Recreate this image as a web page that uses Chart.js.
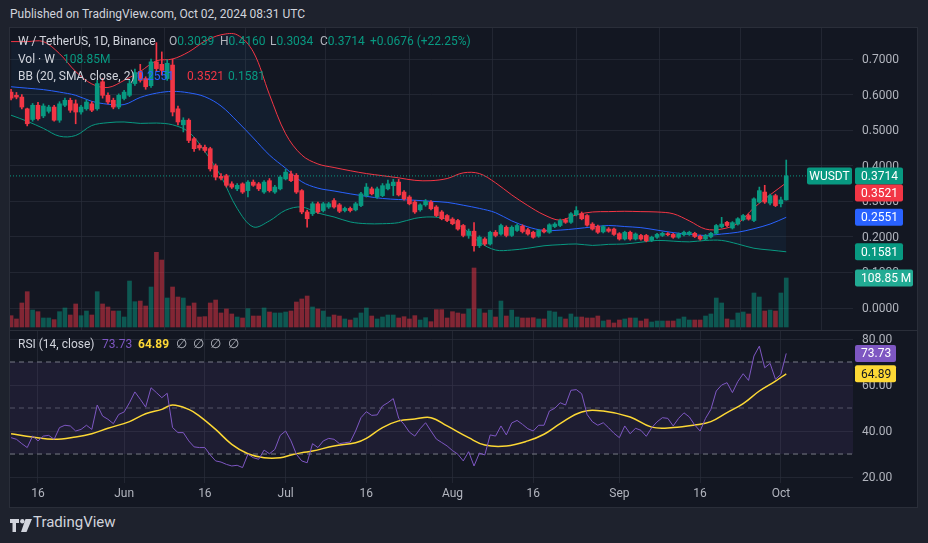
<!DOCTYPE html>
<html>
<head>
<meta charset="utf-8">
<title>W / TetherUS 1D</title>
<script src="https://cdn.jsdelivr.net/npm/chart.js@4.4.1/dist/chart.umd.min.js"></script>
<style>
    html, body { margin: 0; padding: 0; }
    body { width: 928px; height: 543px; background: #1e222d; position: relative; overflow: hidden;
           font-family: Roboto, "Liberation Sans", sans-serif; color: #d1d4dc; }
    .abs { position: absolute; white-space: nowrap; }
    #frame { left: 9px; top: 27px; width: 909px; height: 481px; box-sizing: border-box;
             background: #131722; border: 1px solid #2a2e39; }
    #sep { left: 10px; top: 330px; width: 907px; height: 1px; background: #2a2e39; }
    #priceCanvas { left: 10px; top: 28px; }
    #rsiCanvas { left: 10px; top: 331px; }
    .lg { position: absolute; white-space: nowrap; font-size: 12px; line-height: 16px; color: #d1d4dc; }
    .k { color: #b2b5be; }
    .g { color: #089981; }
    .r { color: #f23645; }
    .b { color: #2962ff; }
    .p { color: #7e57c2; }
    .yl { color: #fdd835; font-weight: bold; }
</style>
</head>
<body>
<div id="frame" class="abs"></div>
<div class="abs" style="left:10px;top:7px;font-size:12px;color:#d1d4dc;">Published on TradingView.com, Oct 02, 2024 08:31 UTC</div>
<canvas id="priceCanvas" class="abs" width="908" height="303"></canvas>
<div id="sep" class="abs"></div>
<canvas id="rsiCanvas" class="abs" width="908" height="176"></canvas>

<!-- legends -->
<div class="lg" style="left:18px;top:33px;">W / TetherUS, 1D, Binance</div>
<div class="lg" style="left:169px;top:33px;"><span class="k">O</span><span class="g">0.3039</span></div>
<div class="lg" style="left:220px;top:33px;"><span class="k">H</span><span class="g">0.4160</span></div>
<div class="lg" style="left:270px;top:33px;"><span class="k">L</span><span class="g">0.3034</span></div>
<div class="lg" style="left:320px;top:33px;"><span class="k">C</span><span class="g">0.3714</span></div>
<div class="lg g" style="left:370px;top:33px;">+0.0676 (+22.25%)</div>
<div class="lg" style="left:18px;top:51px;">Vol · W</div>
<div class="lg g" style="left:63px;top:51px;">108.85M</div>
<div class="lg" style="left:18px;top:68px;">BB (20, SMA, close, 2)</div>
<div class="lg b" style="left:137px;top:68px;">0.2551</div>
<div class="lg r" style="left:187px;top:68px;">0.3521</div>
<div class="lg g" style="left:228px;top:68px;">0.1581</div>
<div class="lg" style="left:18px;top:336px;">RSI (14, close)</div>
<div class="lg p" style="left:102px;top:336px;">73.73</div>
<div class="lg yl" style="left:138px;top:336px;">64.89</div>
<div class="lg k" style="left:176px;top:336px;font-size:13px;word-spacing:3px;">∅ ∅ ∅ ∅</div>

<div class="abs" style="left:10px;top:517px;">
    <svg width="22" height="13" viewBox="0 0 22 13">
        <path d="M0 0h9v4H6v9H2.5V4H0z" fill="#d1d4dc"/>
        <circle cx="12.3" cy="2.2" r="2.2" fill="#d1d4dc"/>
        <path d="M15.5 0H22l-5.5 13H11z" fill="#d1d4dc"/>
    </svg>
</div>
<div class="abs" style="left:33px;top:513px;font-size:15px;color:#d1d4dc;">TradingView</div>

<script>
//--------------
//- DATA -
//--------------
// day 0 = May 11 2024, last day 144 = Oct 02 2024
var tickDays = [5, 21, 36, 51, 66, 82, 97, 113, 128, 143];
var tickLabels = ["16", "Jun", "16", "Jul", "16", "Aug", "16", "Sep", "16", "Oct"];

var opens = [0.607, 0.598, 0.593, 0.560, 0.530, 0.570, 0.540, 0.553, 0.565, 0.528,
    0.570, 0.584, 0.574, 0.551, 0.560, 0.574, 0.560, 0.636, 0.598, 0.584,
    0.565, 0.589, 0.598, 0.631, 0.665, 0.645, 0.625, 0.692, 0.685, 0.645,
    0.683, 0.560, 0.515, 0.528, 0.476, 0.457, 0.452, 0.448, 0.400, 0.370,
    0.372, 0.349, 0.335, 0.349, 0.330, 0.354, 0.349, 0.326, 0.358, 0.326,
    0.335, 0.363, 0.377, 0.373, 0.330, 0.270, 0.265, 0.293, 0.274, 0.284,
    0.302, 0.290, 0.274, 0.280, 0.276, 0.288, 0.316, 0.335, 0.312, 0.316,
    0.335, 0.344, 0.354, 0.326, 0.312, 0.298, 0.276, 0.290, 0.298, 0.284,
    0.270, 0.260, 0.250, 0.246, 0.232, 0.204, 0.216, 0.175, 0.194, 0.180,
    0.213, 0.208, 0.227, 0.204, 0.218, 0.230, 0.220, 0.213, 0.202, 0.220,
    0.213, 0.229, 0.232, 0.248, 0.241, 0.262, 0.265, 0.260, 0.236, 0.230,
    0.214, 0.222, 0.222, 0.209, 0.194, 0.213, 0.194, 0.204, 0.204, 0.190,
    0.199, 0.204, 0.209, 0.207, 0.199, 0.206, 0.207, 0.210, 0.202, 0.194,
    0.200, 0.210, 0.228, 0.241, 0.225, 0.236, 0.248, 0.260, 0.246, 0.298,
    0.326, 0.295, 0.316, 0.293, 0.3039];
var highs = [0.615, 0.606, 0.600, 0.562, 0.575, 0.578, 0.574, 0.570, 0.570, 0.580,
    0.590, 0.590, 0.585, 0.570, 0.585, 0.580, 0.640, 0.645, 0.605, 0.590,
    0.602, 0.612, 0.640, 0.672, 0.685, 0.650, 0.700, 0.746, 0.720, 0.698,
    0.700, 0.568, 0.535, 0.532, 0.480, 0.462, 0.458, 0.452, 0.405, 0.378,
    0.376, 0.355, 0.350, 0.352, 0.358, 0.360, 0.353, 0.358, 0.364, 0.345,
    0.372, 0.390, 0.385, 0.378, 0.333, 0.275, 0.298, 0.298, 0.297, 0.297,
    0.308, 0.294, 0.284, 0.284, 0.297, 0.325, 0.350, 0.340, 0.340, 0.350,
    0.360, 0.362, 0.362, 0.330, 0.316, 0.302, 0.293, 0.305, 0.302, 0.288,
    0.274, 0.263, 0.254, 0.249, 0.235, 0.222, 0.240, 0.203, 0.198, 0.216,
    0.218, 0.236, 0.231, 0.231, 0.236, 0.234, 0.224, 0.216, 0.221, 0.224,
    0.237, 0.240, 0.250, 0.252, 0.268, 0.285, 0.270, 0.263, 0.240, 0.233,
    0.232, 0.226, 0.225, 0.212, 0.216, 0.216, 0.211, 0.207, 0.207, 0.202,
    0.210, 0.213, 0.212, 0.210, 0.211, 0.216, 0.216, 0.213, 0.205, 0.207,
    0.213, 0.235, 0.255, 0.244, 0.243, 0.254, 0.263, 0.264, 0.310, 0.340,
    0.345, 0.320, 0.320, 0.312, 0.4160];
var lows = [0.585, 0.588, 0.560, 0.512, 0.525, 0.528, 0.535, 0.548, 0.525, 0.522,
    0.566, 0.550, 0.518, 0.545, 0.556, 0.552, 0.556, 0.590, 0.574, 0.560,
    0.560, 0.585, 0.594, 0.626, 0.635, 0.615, 0.620, 0.665, 0.655, 0.640,
    0.540, 0.515, 0.495, 0.465, 0.440, 0.444, 0.438, 0.385, 0.360, 0.360,
    0.340, 0.336, 0.330, 0.322, 0.312, 0.342, 0.330, 0.322, 0.326, 0.322,
    0.332, 0.360, 0.355, 0.322, 0.265, 0.227, 0.260, 0.266, 0.270, 0.280,
    0.281, 0.268, 0.270, 0.270, 0.273, 0.285, 0.312, 0.318, 0.308, 0.313,
    0.332, 0.316, 0.315, 0.303, 0.290, 0.266, 0.272, 0.286, 0.276, 0.257,
    0.248, 0.243, 0.234, 0.219, 0.200, 0.196, 0.160, 0.170, 0.176, 0.177,
    0.200, 0.205, 0.200, 0.201, 0.215, 0.211, 0.205, 0.196, 0.199, 0.211,
    0.210, 0.226, 0.229, 0.238, 0.238, 0.259, 0.248, 0.230, 0.219, 0.210,
    0.211, 0.213, 0.204, 0.191, 0.191, 0.191, 0.191, 0.191, 0.186, 0.187,
    0.196, 0.201, 0.203, 0.196, 0.196, 0.203, 0.204, 0.198, 0.191, 0.191,
    0.197, 0.207, 0.225, 0.229, 0.222, 0.233, 0.245, 0.247, 0.243, 0.295,
    0.294, 0.290, 0.285, 0.284, 0.3034];
var closes = [0.590, 0.593, 0.565, 0.518, 0.570, 0.532, 0.568, 0.565, 0.528, 0.574,
    0.584, 0.556, 0.551, 0.565, 0.579, 0.556, 0.631, 0.598, 0.579, 0.565,
    0.598, 0.607, 0.631, 0.662, 0.640, 0.622, 0.692, 0.673, 0.668, 0.688,
    0.551, 0.523, 0.528, 0.471, 0.448, 0.450, 0.443, 0.391, 0.368, 0.365,
    0.345, 0.340, 0.345, 0.326, 0.354, 0.345, 0.335, 0.354, 0.330, 0.340,
    0.368, 0.382, 0.358, 0.326, 0.270, 0.251, 0.293, 0.270, 0.293, 0.293,
    0.284, 0.272, 0.280, 0.274, 0.293, 0.321, 0.340, 0.321, 0.335, 0.344,
    0.349, 0.354, 0.318, 0.307, 0.293, 0.270, 0.290, 0.300, 0.279, 0.260,
    0.251, 0.246, 0.237, 0.222, 0.204, 0.216, 0.175, 0.199, 0.180, 0.213,
    0.204, 0.232, 0.204, 0.227, 0.232, 0.215, 0.208, 0.199, 0.218, 0.214,
    0.234, 0.236, 0.246, 0.241, 0.265, 0.274, 0.251, 0.233, 0.222, 0.213,
    0.229, 0.216, 0.207, 0.194, 0.213, 0.194, 0.208, 0.194, 0.189, 0.199,
    0.207, 0.210, 0.206, 0.199, 0.208, 0.213, 0.213, 0.201, 0.194, 0.204,
    0.210, 0.232, 0.236, 0.232, 0.240, 0.251, 0.260, 0.250, 0.307, 0.330,
    0.298, 0.316, 0.288, 0.3039, 0.3714];
// volume, millions
var volumes = [25.1, 17.8, 53.3, 78.4, 37.7, 34.0, 20.0, 20.0, 16.3, 34.0,
    42.2, 26.6, 51.1, 25.1, 35.5, 26.6, 78.4, 51.1, 44.4, 35.5,
    35.5, 22.2, 102.1, 56.2, 57.7, 46.6, 88.8, 165.8, 148.7, 64.4,
    88.8, 66.6, 64.4, 46.6, 53.3, 22.2, 23.0, 53.3, 59.9, 31.1,
    40.0, 28.9, 22.2, 20.0, 40.7, 24.4, 24.4, 42.2, 33.3, 31.1,
    31.1, 33.3, 35.5, 55.5, 62.2, 68.8, 44.4, 40.0, 35.5, 22.2,
    26.6, 24.4, 17.8, 15.5, 20.0, 31.1, 42.2, 24.4, 17.8, 22.2,
    26.6, 26.6, 20.0, 22.9, 17.8, 25.2, 15.5, 20.7, 11.8, 38.5,
    38.5, 20.0, 34.0, 31.1, 28.9, 40.0, 131.0, 40.0, 31.1, 37.7,
    22.2, 57.7, 24.4, 37.7, 22.2, 20.0, 20.0, 20.7, 17.8, 17.8,
    35.5, 33.3, 22.2, 17.8, 28.9, 22.2, 22.2, 20.0, 20.0, 24.4,
    13.3, 15.5, 8.9, 15.5, 17.8, 20.0, 20.0, 13.3, 17.8, 11.1,
    13.3, 13.3, 13.3, 13.3, 17.8, 22.2, 15.5, 15.5, 15.5, 24.4,
    28.9, 64.4, 53.3, 17.8, 15.5, 31.1, 33.3, 28.9, 75.5, 66.6,
    35.5, 37.7, 35.5, 75.5, 108.85];

// Bollinger bands read every 3 days
var bbDays = [0, 3, 6, 9, 12, 15, 18, 21, 24, 27, 30, 33, 36, 39, 42, 45, 48, 51, 54, 57,
    60, 63, 66, 69, 72, 75, 78, 81, 84, 87, 90, 93, 96, 99, 102, 105, 108, 111, 114, 117,
    120, 123, 126, 129, 132, 135, 138, 141, 144];
var bbUpper = [0.749, 0.749, 0.749, 0.715, 0.665, 0.630, 0.620, 0.640, 0.665, 0.695,
    0.700, 0.720, 0.750, 0.768, 0.768, 0.720, 0.600, 0.490, 0.430, 0.405,
    0.395, 0.386, 0.378, 0.372, 0.366, 0.359, 0.358, 0.364, 0.380, 0.378,
    0.352, 0.318, 0.288, 0.262, 0.247, 0.262, 0.270, 0.271, 0.272, 0.271,
    0.270, 0.265, 0.245, 0.222, 0.222, 0.238, 0.282, 0.318, 0.3521];
var bbBasis = [0.622, 0.618, 0.614, 0.607, 0.598, 0.581, 0.573, 0.572, 0.592, 0.604,
    0.609, 0.605, 0.594, 0.568, 0.525, 0.478, 0.430, 0.393, 0.355, 0.337,
    0.329, 0.321, 0.314, 0.308, 0.305, 0.303, 0.300, 0.297, 0.289, 0.280,
    0.268, 0.245, 0.228, 0.218, 0.219, 0.223, 0.228, 0.232, 0.229, 0.226,
    0.219, 0.212, 0.207, 0.204, 0.208, 0.213, 0.223, 0.236, 0.2551];
var bbLower = [0.542, 0.525, 0.505, 0.483, 0.485, 0.513, 0.521, 0.523, 0.519, 0.520,
    0.515, 0.495, 0.440, 0.370, 0.280, 0.228, 0.245, 0.275, 0.284, 0.267,
    0.256, 0.242, 0.237, 0.237, 0.240, 0.252, 0.256, 0.250, 0.225, 0.185,
    0.163, 0.163, 0.168, 0.175, 0.178, 0.180, 0.176, 0.179, 0.180, 0.185,
    0.190, 0.188, 0.186, 0.190, 0.190, 0.180, 0.168, 0.163, 0.1581];

var rsiValues = [37.1, 36.4, 34.5, 32.8, 37.8, 35.7, 37.8, 38.1, 36.4, 41.5,
    42.5, 42.2, 40.0, 40.7, 42.5, 40.7, 51.3, 46.5, 45.1, 43.2,
    47.2, 48.3, 52.3, 57.0, 53.8, 50.4, 58.8, 56.7, 54.5, 56.4,
    41.5, 39.3, 39.3, 35.7, 33.1, 32.8, 32.8, 29.6, 27.0, 26.5,
    25.5, 24.8, 25.1, 24.1, 29.9, 28.4, 27.7, 31.7, 30.1, 32.0,
    38.1, 40.0, 35.7, 29.9, 27.0, 26.2, 34.5, 32.8, 35.7, 36.8,
    36.4, 34.5, 34.9, 35.2, 40.0, 45.8, 48.4, 46.8, 47.0, 50.9,
    52.3, 54.1, 45.6, 42.9, 39.5, 37.8, 41.0, 43.6, 40.0, 36.5,
    35.0, 33.5, 31.5, 29.9, 27.0, 31.0, 24.8, 30.4, 29.6, 38.3,
    37.8, 42.2, 38.3, 43.5, 44.6, 42.9, 41.0, 40.0, 42.5, 42.5,
    48.7, 49.9, 52.3, 51.3, 57.7, 58.0, 56.2, 47.2, 44.0, 42.5,
    43.6, 41.4, 39.0, 37.1, 42.2, 38.8, 41.2, 40.3, 37.7, 41.4,
    44.0, 45.8, 45.5, 42.2, 45.5, 47.9, 46.1, 42.6, 40.0, 45.5,
    49.4, 57.4, 60.0, 61.0, 56.7, 61.5, 64.9, 62.0, 72.6, 76.9,
    67.5, 69.4, 62.5, 64.6, 73.73];
var rsiMaDays = [0, 4, 8, 12, 15, 18, 22, 25, 28, 30, 33, 35, 38, 41, 44, 47, 50, 52, 54, 56,
    60, 64, 66, 69, 72, 75, 78, 81, 85, 88, 92, 96, 99, 102, 106, 110, 115, 119, 123, 127,
    130, 133, 136, 139, 142, 144];
var rsiMaValues = [38.8, 37.4, 36.4, 37.4, 38.8, 41.2, 44.1, 47.5, 49.4, 51.3,
    49.4, 46.5, 40.7, 34.2, 30.1, 28.4, 28.4, 29.6, 30.6, 31.3,
    33.5, 34.9, 36.8, 41.5, 44.4, 45.2, 45.8, 42.2, 37.1, 33.9,
    33.5, 35.7, 38.6, 43.2, 48.3, 48.7, 46.1, 41.7, 41.5, 42.6,
    44.1, 48.0, 51.9, 57.4, 61.7, 64.89];
var rsiLevels = [70, 50, 30];

//--------------
//- SETUP -
//--------------
Chart.defaults.font.family = "Roboto, 'Liberation Sans', sans-serif";
Chart.defaults.font.size = 12;
Chart.defaults.color = "#b2b5be";

var upColor = "#089981";
var downColor = "#f23645";
var gridColor = "rgba(42,46,57,0.7)";
var xMin = -0.2;
var xMax = 156.4;
var last = closes.length - 1;

function points(xs, ys) {
    return xs.map(function(x, i) { return { x: x, y: ys[i] }; });
}
var days = closes.map(function(c, i) { return i; });

function sideAxis(scale) {
    scale.width = 65;
    scale.paddingTop = 0;
    scale.paddingBottom = 0;
}
function dayTicks(scale) {
    scale.ticks = tickDays.map(function(d) { return { value: d }; });
}

// price / value tags on the right scale
var badgePlugin = {
    id: "badges",
    afterDraw: function(chart, args, opts) {
        var ctx = chart.ctx;
        var area = chart.chartArea;
        var prevBottom = -1000;
        ctx.save();
        ctx.font = "12px Roboto, sans-serif";
        ctx.textBaseline = "middle";
        opts.items.forEach(function(b) {
            var y = chart.scales[b.axis].getPixelForValue(b.value);
            var top = Math.max(y - 8.5, prevBottom);
            prevBottom = top + 17;
            ctx.fillStyle = b.bg;
            ctx.beginPath();
            ctx.roundRect(area.right + 2, top, b.w, 17, 2);
            ctx.fill();
            ctx.fillStyle = b.fg;
            ctx.textAlign = "left";
            ctx.fillText(b.text, area.right + 8, top + 9.5);
            if (b.tag) {
                ctx.fillStyle = b.bg;
                ctx.beginPath();
                ctx.roundRect(area.right - 46, top, 45, 17, 2);
                ctx.fill();
                ctx.fillStyle = b.fg;
                ctx.textAlign = "center";
                ctx.fillText(b.tag, area.right - 23.5, top + 9.5);
            }
        });
        ctx.restore();
    }
};

//--------------
//- PRICE PANE -
//--------------
var candleColors = closes.map(function(c, i) { return c >= opens[i] ? upColor : downColor; });
var volColors = closes.map(function(c, i) {
    return c >= opens[i] ? "rgba(8,153,129,0.5)" : "rgba(242,54,69,0.5)";
});
var wickData = days.map(function(i) { return { x: i, y: [lows[i], highs[i]] }; });
var bodyData = days.map(function(i) { return { x: i, y: [opens[i], closes[i]] }; });

new Chart(document.getElementById("priceCanvas"), {
    type: "bar",
    data: {
        datasets: [{
            type: "bar", yAxisID: "yVol", data: points(days, volumes),
            backgroundColor: volColors, barThickness: 4, grouped: false, order: 10
        }, {
            type: "line", data: points(bbDays, bbUpper), borderColor: "#f23645",
            borderWidth: 1, pointRadius: 0, tension: 0.35, fill: false, order: 6
        }, {
            type: "line", data: points(bbDays, bbBasis), borderColor: "#2962ff",
            borderWidth: 1, pointRadius: 0, tension: 0.35, fill: false, order: 6
        }, {
            type: "line", data: points(bbDays, bbLower), borderColor: "#089981",
            borderWidth: 1, pointRadius: 0, tension: 0.35, fill: "-2",
            backgroundColor: "rgba(33,150,243,0.06)", order: 6
        }, {
            type: "line", data: points([xMin, xMax], [closes[last], closes[last]]),
            borderColor: upColor, borderWidth: 1, borderDash: [1, 2], pointRadius: 0, fill: false, order: 5
        }, {
            type: "bar", data: wickData, backgroundColor: candleColors,
            barThickness: 1, grouped: false, order: 2
        }, {
            type: "bar", data: bodyData, backgroundColor: candleColors,
            barThickness: 4, minBarLength: 1, grouped: false, order: 1
        }]
    },
    options: {
        responsive: false,
        animation: false,
        events: [],
        layout: { padding: 0 },
        plugins: {
            legend: { display: false },
            tooltip: { enabled: false },
            badges: {
                items: [
                    { axis: "y", value: closes[last], text: closes[last].toFixed(4), tag: "WUSDT", bg: "#089981", fg: "#ffffff", w: 48 },
                    { axis: "y", value: bbUpper[bbUpper.length - 1], text: bbUpper[bbUpper.length - 1].toFixed(4), bg: "#f23645", fg: "#ffffff", w: 48 },
                    { axis: "y", value: bbBasis[bbBasis.length - 1], text: bbBasis[bbBasis.length - 1].toFixed(4), bg: "#2962ff", fg: "#ffffff", w: 48 },
                    { axis: "y", value: bbLower[bbLower.length - 1], text: bbLower[bbLower.length - 1].toFixed(4), bg: "#089981", fg: "#ffffff", w: 48 },
                    { axis: "yVol", value: volumes[last], text: volumes[last].toFixed(2) + " M", bg: "#22ab94", fg: "#ffffff", w: 58 }
                ]
            }
        },
        scales: {
            x: {
                type: "linear", min: xMin, max: xMax, offset: false,
                afterBuildTicks: dayTicks,
                ticks: { display: false },
                grid: { color: gridColor, drawTicks: false },
                border: { display: false },
                afterFit: function(s) { s.height = 0; s.paddingLeft = 0; s.paddingRight = 0; }
            },
            y: {
                position: "right", min: -0.0646, max: 0.7872,
                ticks: {
                    stepSize: 0.1, includeBounds: false, padding: 9, labelOffset: 1,
                    callback: function(v) { return v.toFixed(4); }
                },
                grid: { color: gridColor, drawTicks: false },
                border: { display: false },
                afterFit: sideAxis
            },
            yVol: { position: "right", display: false, min: -8.9, max: 664 }
        }
    },
    plugins: [badgePlugin]
});

//--------------
//- RSI PANE -
//--------------
new Chart(document.getElementById("rsiCanvas"), {
    type: "line",
    data: {
        datasets: [{
            data: points([xMin, xMax], [rsiLevels[0], rsiLevels[0]]), borderColor: "#787b86",
            borderWidth: 1, borderDash: [5, 4], pointRadius: 0, fill: false, order: 5
        }, {
            data: points([xMin, xMax], [rsiLevels[2], rsiLevels[2]]), borderColor: "#787b86",
            borderWidth: 1, borderDash: [5, 4], pointRadius: 0, fill: "-1",
            backgroundColor: "rgba(126,87,194,0.1)", order: 5
        }, {
            data: points([xMin, xMax], [rsiLevels[1], rsiLevels[1]]), borderColor: "rgba(120,123,134,0.6)",
            borderWidth: 1, borderDash: [5, 4], pointRadius: 0, fill: false, order: 5
        }, {
            data: points(rsiMaDays, rsiMaValues), borderColor: "#fdd835",
            borderWidth: 1.5, pointRadius: 0, tension: 0.4, fill: false, order: 2
        }, {
            data: points(days, rsiValues), borderColor: "#7e57c2",
            borderWidth: 1, pointRadius: 0, tension: 0, fill: false, order: 1
        }]
    },
    options: {
        responsive: false,
        animation: false,
        events: [],
        layout: { padding: 0 },
        plugins: {
            legend: { display: false },
            tooltip: { enabled: false },
            badges: {
                items: [
                    { axis: "y", value: rsiValues[last], text: rsiValues[last].toFixed(2), bg: "#7e57c2", fg: "#ffffff", w: 41 },
                    { axis: "y", value: rsiMaValues[rsiMaValues.length - 1], text: rsiMaValues[rsiMaValues.length - 1].toFixed(2), bg: "#fdd835", fg: "#131722", w: 41 }
                ]
            }
        },
        scales: {
            x: {
                type: "linear", min: xMin, max: xMax, offset: false,
                afterBuildTicks: dayTicks,
                ticks: {
                    autoSkip: false, maxRotation: 0, padding: 4,
                    callback: function(v, i) { return tickLabels[i]; }
                },
                grid: { color: gridColor, drawTicks: false },
                border: { display: false },
                afterFit: function(s) { s.height = 24; s.paddingLeft = 0; s.paddingRight = 0; }
            },
            y: {
                position: "right", min: 17.4, max: 83.48,
                ticks: {
                    stepSize: 20, includeBounds: false, padding: 9, labelOffset: 1,
                    callback: function(v) { return v.toFixed(2); }
                },
                grid: { color: gridColor, drawTicks: false },
                border: { display: false },
                afterFit: sideAxis
            }
        }
    },
    plugins: [badgePlugin]
});
</script>
</body>
</html>
